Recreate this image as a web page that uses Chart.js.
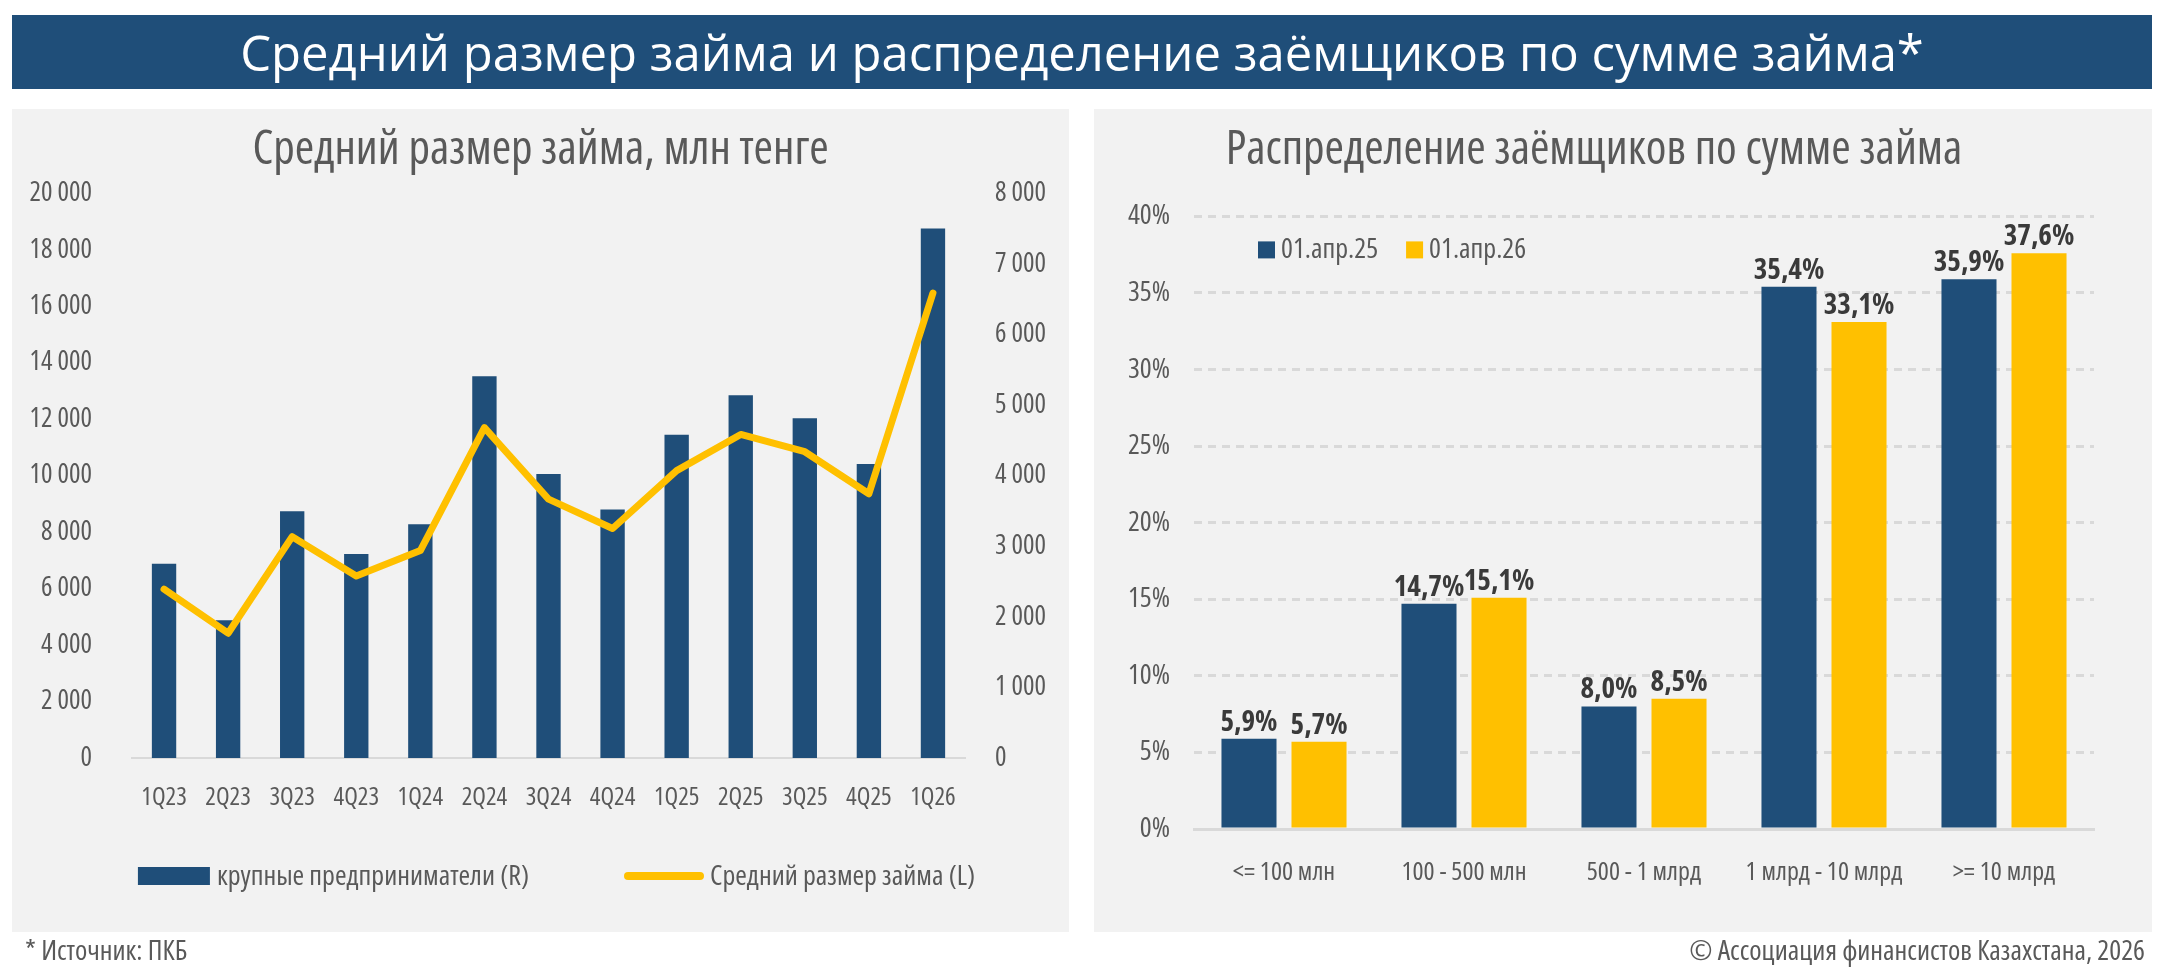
<!DOCTYPE html>
<html lang="ru">
<head>
<meta charset="utf-8">
<script src="https://cdn.jsdelivr.net/npm/chart.js@4.4.1/dist/chart.umd.min.js"></script>
<style>
  body { margin: 0; width: 2160px; height: 970px; background: #fff; position: relative; overflow: hidden; }
  #header { position: absolute; left: 12px; top: 15px; width: 2140px; height: 74px; background: #1f4e79; color: #fff;
            font-size: 49px; line-height: 74px; text-align: center; white-space: nowrap; font-stretch: normal !important; }
  .panel { position: absolute; top: 109px; height: 823px; background: #f2f2f2; }
  #leftPanel { left: 12px; width: 1057px; }
  #rightPanel { left: 1094px; width: 1058px; }
  .note { position: absolute; top: 933px; font-size: 28px; line-height: 32px; color: #595959; white-space: nowrap; }
  #source { left: 25px; }
  #copyright { right: 15px; }
</style>
</head>
<body>
<div id="header">Средний размер займа и распределение заёмщиков по сумме займа*</div>
<div class="panel" id="leftPanel"><canvas id="avgChart" width="1057" height="823"></canvas></div>
<div class="panel" id="rightPanel"><canvas id="distChart" width="1058" height="823"></canvas></div>
<div class="note" id="source">* Источник: ПКБ</div>
<div class="note" id="copyright">© Ассоциация финансистов Казахстана, 2026</div>
<script>
// left chart data
const quarters = ['1Q23', '2Q23', '3Q23', '4Q23', '1Q24', '2Q24', '3Q24', '4Q24', '1Q25', '2Q25', '3Q25', '4Q25', '1Q26']
const largeBorrowers = [2753, 1953, 3496, 2889, 3313, 5409, 4023, 3520, 4579, 5140, 4814, 4165, 7504]
const avgLoanSize = [5980, 4420, 7840, 6450, 7350, 11700, 9170, 8130, 10180, 11460, 10850, 9360, 16470]
const leftAxisMax = 20000, leftAxisStep = 2000
const rightAxisMax = 8000, rightAxisStep = 1000

// right chart data
const loanBuckets = ['<= 100 млн', '100 - 500 млн', '500 - 1 млрд', '1 млрд - 10 млрд', '>= 10 млрд']
const seriesNames = ['01.апр.25', '01.апр.26']
const shareApr25 = [5.9, 14.7, 8.0, 35.4, 35.9]
const shareApr26 = [5.7, 15.1, 8.5, 33.1, 37.6]
const shareAxisMax = 40, shareAxisStep = 5

const BLUE = '#1f4e79'
const GOLD = '#ffc000'
const TEXT = '#595959'

// the original uses a condensed face, take the narrowest one that is really there
function pickFont() {
     const ctx = document.createElement('canvas').getContext('2d')
     const sample = 'Средний размер займа 0123456789'
     const width = f => { ctx.font = f; return ctx.measureText(sample).width }
     const base = width('40px monospace')
     const options = [['Noto Sans', 'condensed'], ['Open Sans', 'condensed'], ['Liberation Sans Narrow', ''], ['DejaVu Sans Condensed', '']]
     for (const [name, stretch] of options) {
          const plain = width(`40px "${name}", monospace`)
          if (plain === base) continue
          if (!stretch) return { family: `"${name}"`, stretch: '' }
          if (width(`${stretch} 40px "${name}", monospace`) < plain - 1) return { family: `"${name}"`, stretch }
     }
     return { family: 'sans-serif', stretch: '' }
}
const picked = pickFont()
const FONT = picked.family
const canStretch = !!picked.stretch
const W = canStretch ? 'condensed normal' : 'normal'
const WB = canStretch ? 'condensed bold' : 'bold'

document.body.style.fontFamily = FONT
if (canStretch) document.body.style.fontStretch = 'condensed'
Chart.defaults.font.family = FONT
Chart.defaults.font.weight = W
Chart.defaults.color = TEXT

const spaced = v => String(v).replace(/\B(?=(\d{3})+(?!\d))/g, ' ')

const bottomLegend = {
     id: 'bottomLegend',
     afterDraw(chart) {
          const { ctx, chartArea } = chart
          const [bars, line] = chart.data.datasets
          const y = chartArea.bottom + 118
          ctx.save()
          ctx.font = `${W} 28px ${FONT}`
          ctx.textBaseline = 'middle'
          const w1 = ctx.measureText(bars.label).width
          const w2 = ctx.measureText(line.label).width
          const total = 72 + 7 + w1 + 95 + 80 + 6 + w2
          let x = (chartArea.left + chartArea.right) / 2 + 8 - total / 2
          ctx.fillStyle = bars.backgroundColor
          ctx.fillRect(x, y - 9, 72, 18)
          ctx.fillStyle = TEXT
          ctx.fillText(bars.label, x + 79, y + 1)
          x += 79 + w1 + 95
          ctx.strokeStyle = line.borderColor
          ctx.lineWidth = 8
          ctx.lineCap = 'round'
          ctx.beginPath()
          ctx.moveTo(x + 4, y)
          ctx.lineTo(x + 76, y)
          ctx.stroke()
          ctx.fillText(line.label, x + 86, y + 1)
          ctx.restore()
     }
}

new Chart(document.getElementById('avgChart'), {
     type: 'bar',
     data: {
          labels: quarters,
          datasets: [{
               type: 'bar',
               label: 'крупные предприниматели (R)',
               data: largeBorrowers,
               yAxisID: 'yR',
               backgroundColor: BLUE,
               barPercentage: 0.38,
               categoryPercentage: 1,
               order: 2
          }, {
               type: 'line',
               label: 'Средний размер займа (L)',
               data: avgLoanSize,
               yAxisID: 'yL',
               borderColor: GOLD,
               backgroundColor: GOLD,
               borderWidth: 7,
               borderCapStyle: 'round',
               borderJoinStyle: 'round',
               pointRadius: 0,
               tension: 0,
               order: 1
          }]
     },
     options: {
          responsive: false,
          animation: false,
          layout: { padding: { top: 0, bottom: 78, left: 0, right: 0 } },
          plugins: {
               tooltip: { enabled: false },
               legend: { display: false },
               title: {
                    display: true,
                    text: 'Средний размер займа, млн тенге',
                    color: TEXT,
                    font: { size: 47, weight: W },
                    padding: { top: 13, bottom: 15 }
               }
          },
          scales: {
               x: {
                    grid: { display: false, drawTicks: false },
                    border: { display: true, color: '#d9d9d9', width: 2 },
                    ticks: { font: { size: 25 }, padding: 25, maxRotation: 0, autoSkip: false },
                    afterFit: s => { s.height = 96 }
               },
               yL: {
                    position: 'left',
                    min: 0,
                    max: leftAxisMax,
                    grid: { display: false, drawTicks: false },
                    border: { display: false },
                    ticks: { stepSize: leftAxisStep, font: { size: 27 }, padding: 40, callback: v => spaced(v) },
                    afterFit: s => { s.width = 120 }
               },
               yR: {
                    position: 'right',
                    min: 0,
                    max: rightAxisMax,
                    grid: { display: false, drawTicks: false },
                    border: { display: false },
                    ticks: { stepSize: rightAxisStep, font: { size: 27 }, padding: 30, callback: v => spaced(v) },
                    afterFit: s => { s.width = 104 }
               }
          }
     },
     plugins: [bottomLegend]
})

// legend drawn inside the plot, top left
const distLegend = {
     id: 'distLegend',
     afterDraw(chart) {
          const { ctx, chartArea } = chart
          let x = chartArea.left + 64
          const y = chartArea.top + 33
          ctx.save()
          ctx.font = `${W} 28px ${FONT}`
          ctx.textBaseline = 'middle'
          chart.data.datasets.forEach(ds => {
               ctx.fillStyle = ds.backgroundColor
               ctx.fillRect(x, y - 8, 17, 17)
               ctx.fillStyle = TEXT
               ctx.fillText(ds.label, x + 23, y + 1)
               x += 23 + ctx.measureText(ds.label).width + 28
          })
          ctx.restore()
     }
}

const valueLabels = {
     id: 'valueLabels',
     afterDatasetsDraw(chart) {
          const { ctx } = chart
          ctx.save()
          ctx.font = `${WB} 29px ${FONT}`
          ctx.fillStyle = '#3a3a3a'
          ctx.textAlign = 'center'
          ctx.textBaseline = 'alphabetic'
          chart.data.datasets.forEach((ds, i) => {
               chart.getDatasetMeta(i).data.forEach((bar, j) => {
                    ctx.fillText(ds.data[j].toFixed(1).replace('.', ',') + '%', bar.x, bar.y - 8)
               })
          })
          ctx.restore()
     }
}

new Chart(document.getElementById('distChart'), {
     type: 'bar',
     data: {
          labels: loanBuckets,
          datasets: [{
               label: seriesNames[0],
               data: shareApr25,
               backgroundColor: BLUE,
               barPercentage: 0.786,
               categoryPercentage: 0.778
          }, {
               label: seriesNames[1],
               data: shareApr26,
               backgroundColor: GOLD,
               barPercentage: 0.786,
               categoryPercentage: 0.778
          }]
     },
     options: {
          responsive: false,
          animation: false,
          layout: { padding: { top: 0, bottom: 0, left: 0, right: 58 } },
          plugins: {
               tooltip: { enabled: false },
               legend: { display: false },
               title: {
                    display: true,
                    text: 'Распределение заёмщиков по сумме займа',
                    color: TEXT,
                    font: { size: 47, weight: W },
                    padding: { top: 13, bottom: 38 }
               }
          },
          scales: {
               x: {
                    grid: { display: false, drawTicks: false },
                    border: { display: true, color: '#d9d9d9', width: 3 },
                    ticks: { font: { size: 26 }, padding: 28, maxRotation: 0, autoSkip: false },
                    afterFit: s => { s.height = 103 }
               },
               y: {
                    min: 0,
                    max: shareAxisMax,
                    grid: {
                         color: c => c.tick.value === 0 ? 'transparent' : '#d9d9d9',
                         lineWidth: 3,
                         drawTicks: false
                    },
                    border: { display: false, dash: [8, 6] },
                    ticks: { stepSize: shareAxisStep, font: { size: 28 }, padding: 24, callback: v => v + '%' },
                    afterFit: s => { s.width = 100 }
               }
          }
     },
     plugins: [distLegend, valueLabels]
})
</script>
</body>
</html>
